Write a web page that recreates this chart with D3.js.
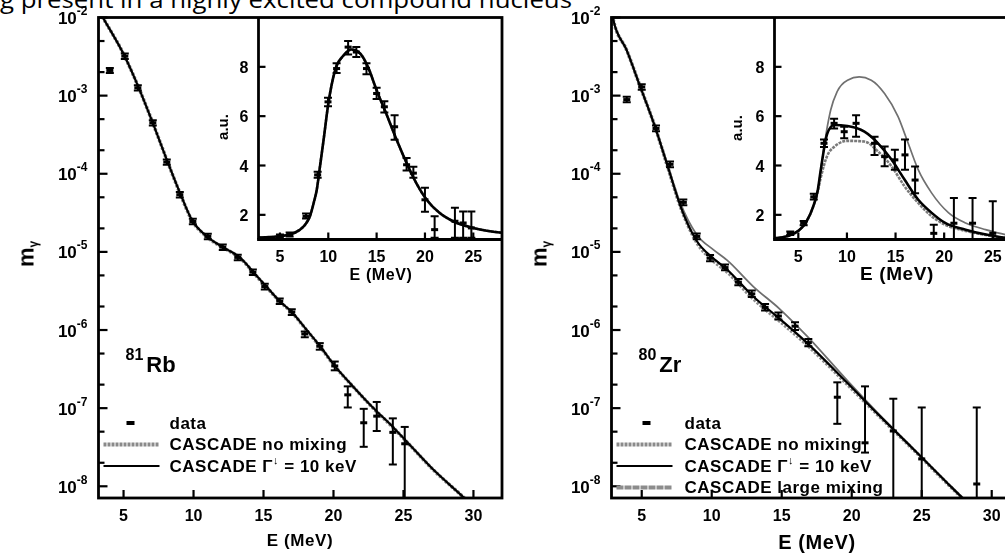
<!DOCTYPE html>
<html><head><meta charset="utf-8">
<script src="https://cdn.jsdelivr.net/npm/d3@7"></script>
<style>body{margin:0;background:#fff}svg{display:block}</style>
</head><body>
<svg id="c" width="1005" height="555"></svg>
<script>
// ---------------- data ----------------
const captionText = "g present in a highly excited compound nucleus";
const xTicksMain = [5, 10, 15, 20, 25, 30];
const yExpMain = [-2, -3, -4, -5, -6, -7, -8];
const xTicksInset = [5, 10, 15, 20, 25];
const yTicksInset = [2, 4, 6, 8];
const legendLabels = ["data", "CASCADE no mixing", "CASCADE \u0393", "CASCADE large mixing"];

// 81Rb main spectrum
const rbMainE      = [3.2, 3.52, 5.09, 6.16, 7.09, 8.09, 9.02, 9.88, 10.95, 12.09, 13.31, 14.52, 15.24, 16.16, 17.02, 18.09, 19.02, 20.09, 21.38, 22.81, 24.24, 25.24, 27.09, 29.16, 30.0];
const rbMain10keV  = [1.26e-2, 1.0e-2, 3.16e-3, 1.17e-3, 4.47e-4, 1.51e-4, 5.75e-5, 2.57e-5, 1.58e-5, 1.15e-5, 8.5e-6, 4.9e-6, 3.55e-6, 2.34e-6, 1.70e-6, 1.0e-6, 6.3e-7, 3.47e-7, 1.91e-7, 1.02e-7, 5.75e-8, 3.72e-8, 1.66e-8, 7.6e-9, 5.5e-9];
const rbMainNoMix  = [1.26e-2, 1.0e-2, 3.16e-3, 1.17e-3, 4.47e-4, 1.51e-4, 5.7e-5, 2.55e-5, 1.56e-5, 1.14e-5, 8.4e-6, 4.85e-6, 3.5e-6, 2.32e-6, 1.68e-6, 9.9e-7, 6.2e-7, 3.45e-7, 1.9e-7, 1.01e-7, 5.7e-8, 3.7e-8, 1.65e-8, 7.6e-9, 5.5e-9];
const rbDataE  = [4.02, 5.09, 6.02, 7.09, 8.09, 9.02, 9.95, 11.02, 12.09, 13.16, 14.24, 15.09, 16.16, 17.02, 17.95, 19.02, 20.09, 21.02, 22.16, 23.09, 24.24, 25.09];
const rbDataY  = [2.1e-3, 3.2e-3, 1.26e-3, 4.5e-4, 1.41e-4, 5.4e-5, 2.45e-5, 1.58e-5, 1.15e-5, 8.5e-6, 5.5e-6, 3.6e-6, 2.34e-6, 1.70e-6, 8.9e-7, 6.2e-7, 3.47e-7, 1.48e-7, 6.5e-8, 7.9e-8, 4.9e-8, 3.5e-8];
const rbDataLo = [1.95e-3, 2.95e-3, 1.16e-3, 4.15e-4, 1.30e-4, 4.95e-5, 2.25e-5, 1.45e-5, 1.06e-5, 7.8e-6, 5.05e-6, 3.3e-6, 2.15e-6, 1.56e-6, 8.1e-7, 5.6e-7, 3.05e-7, 1.02e-7, 3.2e-8, 5.1e-8, 1.9e-8, 1e-9];
const rbDataHi = [2.25e-3, 3.45e-3, 1.36e-3, 4.85e-4, 1.52e-4, 5.85e-5, 2.65e-5, 1.71e-5, 1.24e-5, 9.2e-6, 5.95e-6, 3.9e-6, 2.53e-6, 1.84e-6, 9.6e-7, 6.8e-7, 3.95e-7, 1.9e-7, 9.8e-8, 1.2e-7, 7.4e-8, 5.75e-8];

// 81Rb inset (a.u.)
const rbInsE     = [2.78, 4, 5, 6, 7, 7.6, 8.1, 8.5, 8.8, 9.14, 9.5, 10.0, 10.7, 11.55, 12.4, 13.27, 14.1, 15.0, 16.0, 17.07, 18.1, 19.1, 20.2, 21.5, 22.9, 25.0, 28.0];
const rbIns10keV = [1.08, 1.1, 1.13, 1.2, 1.38, 1.6, 1.94, 2.5, 3.0, 3.96, 5.0, 6.5, 7.86, 8.45, 8.7, 8.55, 8.0, 7.05, 6.1, 5.04, 4.1, 3.29, 2.6, 2.08, 1.74, 1.47, 1.27];
const rbInsDataE  = [5.0, 6.0, 7.7, 8.9, 9.97, 10.86, 12.05, 12.9, 13.95, 15.0, 15.8, 16.86, 18.1, 18.8, 20.0, 21.0, 23.1, 23.95, 24.8];
const rbInsDataY  = [1.12, 1.2, 1.94, 3.62, 6.58, 7.93, 8.8, 8.6, 7.93, 6.92, 6.38, 5.57, 4.03, 3.69, 2.61, 1.4, 1.74, 1.67, 1.47];
const rbInsDataLo = [1.05, 1.12, 1.85, 3.5, 6.4, 7.75, 8.5, 8.4, 7.7, 6.7, 6.15, 5.04, 3.8, 3.5, 2.13, 1.07, 1.07, 1.07, 1.07];
const rbInsDataHi = [1.2, 1.28, 2.05, 3.75, 6.75, 8.15, 9.05, 8.8, 8.15, 7.15, 6.6, 6.04, 4.3, 3.95, 3.1, 1.94, 2.29, 2.14, 2.14];

// 80Zr main spectrum
const zrMainE      = [2.84, 2.97, 3.93, 4.88, 5.95, 6.9, 7.74, 8.93, 10.11, 11.07, 12.97, 14.88, 16.79, 19.64, 22.02, 24.4, 26.79, 27.74, 29.0];
const zrMain10keV  = [1.2e-2, 9.3e-3, 3.8e-3, 1.32e-3, 3.98e-4, 1.17e-4, 3.98e-5, 1.38e-5, 8.3e-6, 6.0e-6, 2.69e-6, 1.38e-6, 6.9e-7, 2.14e-7, 7.9e-8, 3.0e-8, 1.12e-8, 7.6e-9, 4.7e-9];
const zrMainNoMix  = [1.2e-2, 9.3e-3, 3.8e-3, 1.32e-3, 3.98e-4, 1.15e-4, 3.9e-5, 1.32e-5, 7.7e-6, 5.6e-6, 2.5e-6, 1.29e-6, 6.5e-7, 2.05e-7, 7.7e-8, 2.95e-8, 1.1e-8, 7.5e-9, 4.6e-9];
const zrMainLarge  = [1.2e-2, 9.3e-3, 3.8e-3, 1.32e-3, 4.0e-4, 1.2e-4, 4.3e-5, 1.66e-5, 1.07e-5, 7.9e-6, 3.6e-6, 1.84e-6, 8.4e-7, 2.3e-7, 8.1e-8, 3.0e-8, 1.12e-8, 7.6e-9, 4.7e-9];
const zrDataE  = [3.93, 5.0, 6.02, 7.02, 7.97, 8.93, 9.88, 10.95, 11.9, 12.86, 13.81, 14.76, 15.95, 16.9, 18.97, 20.95, 22.97, 25.0, 28.93];
const zrDataY  = [8.9e-4, 1.29e-3, 3.8e-4, 1.32e-4, 4.3e-5, 1.58e-5, 8.3e-6, 6.3e-6, 4.1e-6, 2.9e-6, 1.95e-6, 1.51e-6, 1.12e-6, 6.9e-7, 1.38e-7, 3.6e-8, 5.1e-8, 2.24e-8, 1.07e-8];
const zrDataLo = [8.2e-4, 1.19e-3, 3.5e-4, 1.21e-4, 3.95e-5, 1.45e-5, 7.6e-6, 5.8e-6, 3.75e-6, 2.65e-6, 1.78e-6, 1.36e-6, 1.0e-6, 6.2e-7, 6.3e-8, 2.7e-8, 1e-9, 1e-9, 1e-9];
const zrDataHi = [9.7e-4, 1.4e-3, 4.15e-4, 1.44e-4, 4.7e-5, 1.72e-5, 9.1e-6, 6.9e-6, 4.5e-6, 3.2e-6, 2.15e-6, 1.68e-6, 1.26e-6, 7.7e-7, 2.14e-7, 1.9e-7, 1.32e-7, 1.02e-7, 1.02e-7];

// 80Zr inset (a.u.)
const zrInsE      = [2.55, 4.0, 5.0, 5.8, 6.5, 7.0, 7.3, 7.98, 8.67, 10.06, 11.8, 13.2, 14.6, 15.94, 17.34, 18.72, 20.1, 22.2, 24.3, 26.3, 27.8];
const zrIns10keV  = [1.05, 1.15, 1.35, 1.7, 2.3, 3.0, 3.8, 5.3, 5.64, 5.6, 5.37, 4.9, 4.23, 3.42, 2.61, 2.08, 1.67, 1.4, 1.2, 1.07, 1.03];
const zrInsNoMix  = [1.05, 1.15, 1.35, 1.7, 2.3, 2.95, 3.5, 4.4, 4.75, 5.0, 4.97, 4.57, 3.96, 3.15, 2.48, 1.94, 1.6, 1.35, 1.18, 1.06, 1.02];
const zrInsLargeE = [2.55, 4.0, 5.0, 5.8, 6.5, 7.0, 7.3, 7.98, 8.33, 9.0, 10.06, 11.27, 12.5, 13.87, 15.26, 16.3, 17.34, 18.72, 20.46, 22.2, 24.26, 26.3, 27.8];
const zrInsLarge  = [1.05, 1.15, 1.35, 1.7, 2.3, 3.0, 3.8, 5.57, 6.25, 7.0, 7.46, 7.59, 7.46, 6.92, 5.98, 4.9, 3.82, 2.88, 2.08, 1.67, 1.4, 1.2, 1.12];
const zrInsDataE  = [4.17, 5.55, 6.59, 7.64, 8.68, 9.72, 10.94, 12.84, 13.88, 14.93, 15.97, 17.01, 18.93, 21.0, 22.92, 25.0];
const zrInsDataY  = [1.25, 1.66, 2.73, 4.9, 5.71, 5.37, 5.71, 4.9, 4.36, 4.23, 4.43, 3.41, 1.25, 1.66, 1.66, 1.25];
const zrInsDataLo = [1.18, 1.58, 2.62, 4.75, 5.5, 5.1, 5.17, 4.43, 3.97, 3.83, 3.83, 2.88, 1.0, 1.0, 1.0, 1.0];
const zrInsDataHi = [1.32, 1.75, 2.85, 5.05, 5.9, 5.57, 6.04, 5.17, 4.77, 4.64, 5.05, 3.96, 1.6, 2.68, 2.68, 2.55];

// ---------------- drawing ----------------
const svg = d3.select("#c");
const defs = svg.append("defs");
defs.append("filter").attr("id", "soft").attr("x", "-5%").attr("y", "-5%").attr("width", "110%").attr("height", "110%")
  .append("feGaussianBlur").attr("stdDeviation", 0.45);

svg.append("text").attr("x", 0).attr("y", 7.5)
  .attr("font-family", "'Open Sans', sans-serif").attr("font-size", 23)
  .attr("textLength", 572).attr("lengthAdjust", "spacingAndGlyphs")
  .text(captionText);

const root = svg.append("g").attr("filter", "url(#soft)");
const FONT = "'Liberation Sans', Arial, sans-serif";
let clipId = 0;

function clip(x0, y0, x1, y1) {
  const id = "clip" + (clipId++);
  defs.append("clipPath").attr("id", id).append("rect")
    .attr("x", x0).attr("y", y0).attr("width", x1 - x0).attr("height", y1 - y0);
  return "url(#" + id + ")";
}

function drawCurve(g, x, y, E, V, style) {
  const line = d3.line().x(d => x(d[0])).y(d => y(d[1])).curve(d3.curveMonotoneX);
  g.append("path").attr("d", line(E.map((e, i) => [e, V[i]])))
    .attr("fill", "none").attr("stroke", style.stroke).attr("stroke-width", style.width)
    .attr("stroke-dasharray", style.dash || null).attr("stroke-linejoin", "round");
}

function drawData(g, x, y, E, Y, Lo, Hi) {
  E.forEach((e, i) => {
    const cx = x(e), cy = y(Y[i]), ylo = y(Lo[i]), yhi = y(Hi[i]);
    g.append("line").attr("x1", cx).attr("x2", cx).attr("y1", ylo).attr("y2", yhi)
      .attr("stroke", "#000").attr("stroke-width", 2);
    [ylo, yhi].forEach(yy => g.append("line").attr("x1", cx - 4).attr("x2", cx + 4)
      .attr("y1", yy).attr("y2", yy).attr("stroke", "#000").attr("stroke-width", 2));
    g.append("rect").attr("x", cx - 3.5).attr("y", cy - 1.5).attr("width", 7).attr("height", 3).attr("fill", "#000");
  });
}

const STY = {
  black: {stroke: "#000", width: 2.2},
  noMix: {stroke: "#8a8a8a", width: 3.6, dash: "2.5,1.5"},
  large: {stroke: "#6e6e6e", width: 1.8},
  insBlack: {stroke: "#000", width: 2.6},
  insNoMix: {stroke: "#7a7a7a", width: 2.6, dash: "3,1"},
  insLarge: {stroke: "#707070", width: 1.7}
};

function panel(o) {
  const g = root.append("g");
  const x = d3.scaleLinear().domain(o.xDom).range([o.x0, o.x1]);
  const y = d3.scaleLog().domain([Math.pow(10, -8.15), 1e-2]).range([o.y1, o.y0]);

  // main content
  const mg = g.append("g").attr("clip-path", clip(o.x0, o.y0, o.x1, o.y1));
  o.mainCurves.forEach(c => drawCurve(mg, x, y, c.E, c.V, c.s));
  drawData(mg, x, y, o.data.E, o.data.Y, o.data.Lo, o.data.Hi);

  // inset
  const ix = d3.scaleLinear().domain(o.insXDom).range([o.ix0, o.x1]);
  const iy = d3.scaleLinear().domain([1, 10]).range([o.iy1, o.y0]);
  g.append("rect").attr("x", o.ix0).attr("y", o.y0).attr("width", o.x1 - o.ix0).attr("height", o.iy1 - o.y0).attr("fill", "#fff");
  const ig = g.append("g").attr("clip-path", clip(o.ix0, o.y0, o.x1, o.iy1));
  o.insCurves.forEach(c => drawCurve(ig, ix, iy, c.E, c.V, c.s));
  drawData(ig, ix, iy, o.insData.E, o.insData.Y, o.insData.Lo, o.insData.Hi);

  // inset axes (left + bottom)
  g.append("line").attr("x1", o.ix0).attr("x2", o.ix0).attr("y1", o.y0).attr("y2", o.iy1).attr("stroke", "#000").attr("stroke-width", 2.8);
  g.append("line").attr("x1", o.ix0 - 1.4).attr("x2", o.x1).attr("y1", o.iy1).attr("y2", o.iy1).attr("stroke", "#000").attr("stroke-width", 2.8);
  xTicksInset.forEach(t => {
    g.append("line").attr("x1", ix(t)).attr("x2", ix(t)).attr("y1", o.iy1).attr("y2", o.iy1 - 7).attr("stroke", "#000").attr("stroke-width", 2.2);
    g.append("text").attr("x", ix(t)).attr("y", o.iy1 + 22).attr("text-anchor", "middle")
      .attr("font-family", FONT).attr("font-weight", "bold").attr("font-size", 16).text(t);
  });
  yTicksInset.forEach(t => {
    g.append("line").attr("x1", o.ix0).attr("x2", o.ix0 + 7).attr("y1", iy(t)).attr("y2", iy(t)).attr("stroke", "#000").attr("stroke-width", 2.2);
    g.append("text").attr("x", o.ix0 - 10).attr("y", iy(t) + 6).attr("text-anchor", "end")
      .attr("font-family", FONT).attr("font-weight", "bold").attr("font-size", 16).text(t);
  });
  g.append("text").attr("transform", `translate(${o.auX},${o.auY}) rotate(-90)`)
    .attr("font-family", FONT).attr("font-weight", "bold").attr("font-size", 15).attr("text-anchor", "middle").text("a.u.");
  g.append("text").attr("x", o.insTitleX).attr("y", o.insTitleY).attr("text-anchor", "middle")
    .attr("font-family", FONT).attr("font-weight", "bold").attr("font-size", o.insTitleSize)
    .attr("letter-spacing", 0.6).text("E (MeV)");

  // main frame
  g.append("rect").attr("x", o.x0).attr("y", o.y0).attr("width", o.x1 - o.x0).attr("height", o.y1 - o.y0)
    .attr("fill", "none").attr("stroke", "#000").attr("stroke-width", 2.8);
  xTicksMain.forEach(t => {
    g.append("line").attr("x1", x(t)).attr("x2", x(t)).attr("y1", o.y1).attr("y2", o.y1 - 8).attr("stroke", "#000").attr("stroke-width", 2.2);
    g.append("text").attr("x", x(t)).attr("y", o.y1 + 23).attr("text-anchor", "middle")
      .attr("font-family", FONT).attr("font-weight", "bold").attr("font-size", 16).text(t);
  });
  yExpMain.forEach(p => {
    const yy = y(Math.pow(10, p));
    g.append("line").attr("x1", o.x0).attr("x2", o.x0 + 9).attr("y1", yy).attr("y2", yy).attr("stroke", "#000").attr("stroke-width", 2.2);
    const t = g.append("text").attr("x", o.x0 - 11).attr("y", yy + 6.5).attr("text-anchor", "end")
      .attr("font-family", FONT).attr("font-weight", "bold").attr("font-size", 17);
    t.append("tspan").text("10");
    t.append("tspan").attr("dy", -9).attr("font-size", 12).text("-" + (-p));
    [2, 5].forEach(m => {
      const v = m * Math.pow(10, p - 1);
      if (v > y.domain()[0] && v < y.domain()[1]) {
        g.append("line").attr("x1", o.x0).attr("x2", o.x0 + 6).attr("y1", y(v)).attr("y2", y(v)).attr("stroke", "#000").attr("stroke-width", 2.2);
      }
    });
  });
  // axis titles
  g.append("text").attr("x", o.titleX).attr("y", o.titleY).attr("text-anchor", "middle")
    .attr("font-family", FONT).attr("font-weight", "bold").attr("font-size", o.titleSize)
    .attr("letter-spacing", 0.6).text("E (MeV)");
  const yt = g.append("text").attr("transform", `translate(${o.x0 - 65},267) rotate(-90)`)
    .attr("font-family", FONT).attr("font-weight", "bold").attr("font-size", 22);
  yt.append("tspan").text("m");
  yt.append("tspan").attr("dy", 4).attr("font-size", 12).text("\u03b3");

  // nucleus label
  const nl = g.append("text").attr("x", o.x0 + 27).attr("y", 360)
    .attr("font-family", FONT).attr("font-weight", "bold");
  nl.append("tspan").attr("font-size", 16).text(o.mass);
  nl.append("tspan").attr("dx", 3).attr("dy", 12).attr("font-size", 22).text(o.elem);

  // legend
  const lx = o.x0 + 5, tx = o.x0 + o.legTextDx;
  const rows = o.legend;
  rows.forEach((r, i) => {
    const yy = 423 + i * 21.5;
    if (r.kind === "data") {
      g.append("rect").attr("x", o.x0 + o.legMarkDx - 4).attr("y", yy - 2).attr("width", 8).attr("height", 4).attr("fill", "#000");
    } else {
      g.append("line").attr("x1", lx).attr("x2", lx + 56).attr("y1", yy).attr("y2", yy)
        .attr("stroke", r.s.stroke).attr("stroke-width", r.kind === "black" ? 2.2 : 4)
        .attr("stroke-dasharray", r.kind === "black" ? null : (r.kind === "noMix" ? "3,1" : "7,1"));
    }
    const t = g.append("text").attr("x", tx).attr("y", yy + 5.5)
      .attr("font-family", FONT).attr("font-weight", "bold").attr("font-size", 17).attr("letter-spacing", 0.5);
    t.append("tspan").text(r.label);
    if (r.kind === "black") {
      t.append("tspan").attr("dy", -8).attr("font-size", 11).text("\u2193");
      t.append("tspan").attr("dy", 8).text(" = 10 keV");
    }
  });
}

panel({
  x0: 98.5, x1: 502, y0: 17.5, y1: 498, xDom: [3.21, 32.04],
  ix0: 258.5, iy1: 239.5, insXDom: [2.78, 27.97],
  mainCurves: [
    {E: rbMainE, V: rbMainNoMix, s: STY.noMix},
    {E: rbMainE, V: rbMain10keV, s: STY.black}
  ],
  data: {E: rbDataE, Y: rbDataY, Lo: rbDataLo, Hi: rbDataHi},
  insCurves: [
    {E: rbInsE, V: rbIns10keV, s: STY.insNoMix},
    {E: rbInsE, V: rbIns10keV, s: STY.insBlack}
  ],
  insData: {E: rbInsDataE, Y: rbInsDataY, Lo: rbInsDataLo, Hi: rbInsDataHi},
  auX: 228, auY: 127, insTitleX: 381, insTitleY: 280, insTitleSize: 16,
  titleX: 300, titleY: 546, titleSize: 17,
  mass: "81", elem: "Rb",
  legMarkDx: 32, legTextDx: 71,
  legend: [
    {kind: "data", label: legendLabels[0]},
    {kind: "noMix", label: legendLabels[1], s: STY.noMix},
    {kind: "black", label: legendLabels[2], s: STY.black}
  ]
});

panel({
  x0: 611.5, x1: 1020, y0: 17.5, y1: 498, xDom: [2.84, 32.02],
  ix0: 774.5, iy1: 239.5, insXDom: [2.55, 27.8],
  mainCurves: [
    {E: zrMainE, V: zrMainLarge, s: STY.large},
    {E: zrMainE, V: zrMainNoMix, s: STY.noMix},
    {E: zrMainE, V: zrMain10keV, s: STY.black}
  ],
  data: {E: zrDataE, Y: zrDataY, Lo: zrDataLo, Hi: zrDataHi},
  insCurves: [
    {E: zrInsLargeE, V: zrInsLarge, s: STY.insLarge},
    {E: zrInsE, V: zrInsNoMix, s: STY.insNoMix},
    {E: zrInsE, V: zrIns10keV, s: STY.insBlack}
  ],
  insData: {E: zrInsDataE, Y: zrInsDataY, Lo: zrInsDataLo, Hi: zrInsDataHi},
  auX: 742, auY: 128, insTitleX: 897, insTitleY: 280, insTitleSize: 19,
  titleX: 817, titleY: 549, titleSize: 20,
  mass: "80", elem: "Zr",
  legMarkDx: 35, legTextDx: 73,
  legend: [
    {kind: "data", label: legendLabels[0]},
    {kind: "noMix", label: legendLabels[1], s: STY.noMix},
    {kind: "black", label: legendLabels[2], s: STY.black},
    {kind: "large", label: legendLabels[3], s: {stroke: "#8c8c8c"}}
  ]
});
</script>
</body></html>
